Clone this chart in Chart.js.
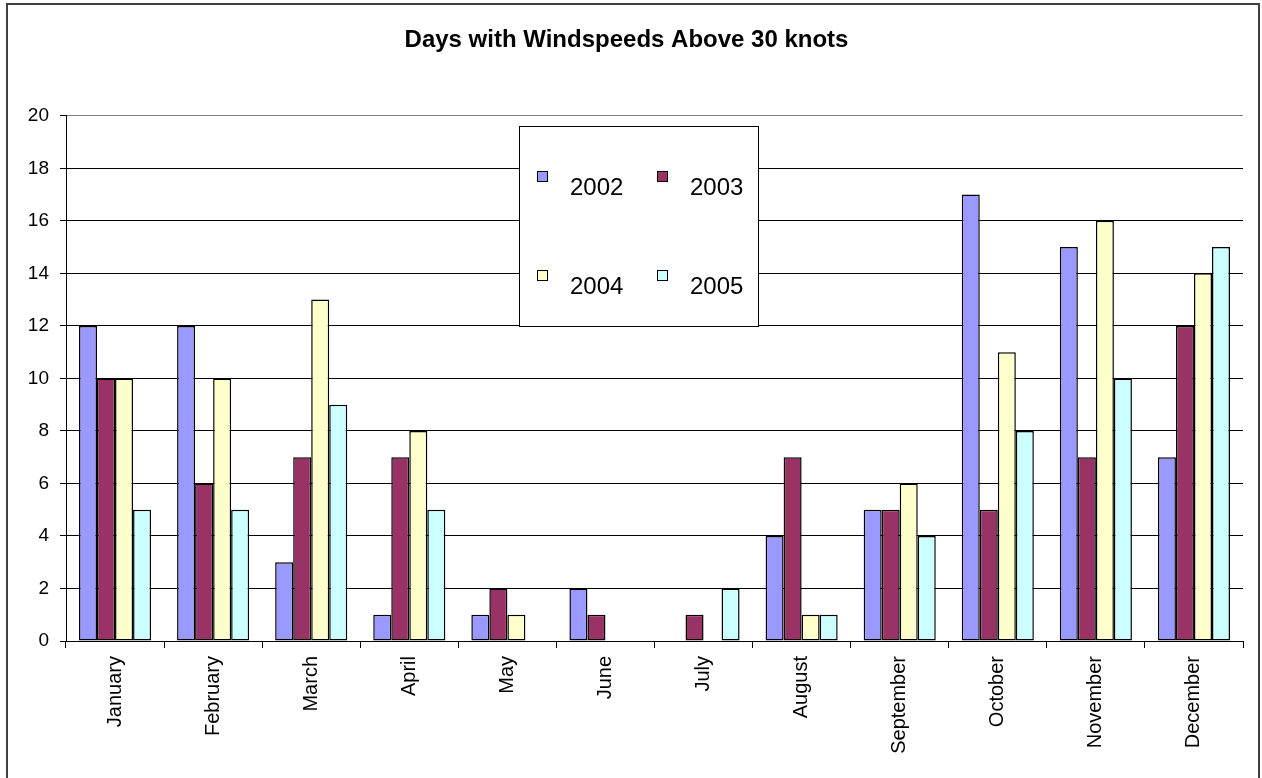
<!DOCTYPE html>
<html>
<head>
<meta charset="utf-8">
<script src="https://cdn.jsdelivr.net/npm/chart.js@4.4.0/dist/chart.umd.min.js"></script>
<style>
  html, body { margin: 0; padding: 0; background: #fff; }
  #wrap { width: 1262px; height: 778px; }
</style>
</head>
<body>
<div id="wrap"><canvas id="chart" width="1262" height="778"></canvas></div>
<script>
const months = ['January', 'February', 'March', 'April', 'May', 'June', 'July',
  'August', 'September', 'October', 'November', 'December'];
const years = ['2002', '2003', '2004', '2005'];

const days2002 = [12, 12, 3, 1, 1, 2, 0, 4, 5, 17, 15, 7];
const days2003 = [10, 6, 7, 7, 2, 1, 1, 7, 5, 5, 7, 12];
const days2004 = [10, 10, 13, 8, 1, 0, 0, 1, 6, 11, 16, 14];
const days2005 = [5, 5, 9, 5, 0, 0, 2, 1, 4, 8, 10, 15];

const yMin = 0, yMax = 20, yStep = 2;
const colors = ['#9999FF', '#993366', '#FFFFCC', '#CCFFFF'];
const font = 'Liberation Sans, Arial, sans-serif';

// excel style legend box sitting inside the plot
const boxLegend = {
  id: 'boxLegend',
  afterDraw(chart) {
    const ctx = chart.ctx;
    ctx.save();
    ctx.fillStyle = '#fff';
    ctx.fillRect(519, 126, 239, 200);
    ctx.strokeStyle = '#000';
    ctx.lineWidth = 1;
    ctx.strokeRect(519.5, 126.5, 239, 200);
    ctx.font = '24px ' + font;
    ctx.textBaseline = 'middle';
    chart.data.datasets.forEach((ds, i) => {
      const col = i % 2, row = Math.floor(i / 2);
      const sx = 537 + col * 120, sy = 171 + row * 99;
      ctx.fillStyle = ds.backgroundColor;
      ctx.fillRect(sx, sy, 11, 11);
      ctx.strokeRect(sx + 0.5, sy + 0.5, 10, 10);
      ctx.fillStyle = '#000';
      ctx.fillText(ds.label, sx + 33, sy + 17);
    });
    // outer frame
    ctx.strokeStyle = '#404040';
    ctx.lineWidth = 2;
    ctx.strokeRect(7, 4, 1252, 800);
    ctx.restore();
  }
};

const ctx = document.getElementById('chart');
new Chart(ctx, {
  type: 'bar',
  data: {
    labels: months,
    datasets: [days2002, days2003, days2004, days2005].map((d, i) => ({
      label: years[i],
      data: d,
      backgroundColor: colors[i],
      borderColor: '#000',
      borderWidth: 1.5,
      borderSkipped: false,
      categoryPercentage: 0.735,
      barPercentage: 1
    }))
  },
  options: {
    responsive: false,
    animation: false,
    layout: { padding: { left: 10, right: 19, top: 0, bottom: 0 } },
    plugins: {
      legend: { display: false },
      tooltip: { enabled: false },
      title: {
        display: true,
        text: 'Days with Windspeeds Above 30 knots',
        color: '#000',
        font: { family: font, size: 24, weight: 'bold' },
        padding: { top: 26, bottom: 61 }
      }
    },
    scales: {
      x: {
        grid: {
          drawOnChartArea: true,
          color: c => c.index === months.length ? '#808080' : 'rgba(0,0,0,0)',
          tickColor: '#000',
          tickLength: 7
        },
        border: { color: '#000' },
        ticks: {
          color: '#000',
          font: { family: font, size: 20 },
          minRotation: 90,
          maxRotation: 90,
          autoSkip: false,
          padding: 8
        },
        afterFit: s => { s.height = 137; }
      },
      y: {
        min: yMin,
        max: yMax,
        grid: {
          color: c => c.tick.value === yMax ? '#808080' : '#000',
          tickColor: '#000',
          tickLength: 6
        },
        border: { color: '#000' },
        ticks: {
          stepSize: yStep,
          color: '#000',
          font: { family: font, size: 19 },
          padding: 11
        },
        afterFit: s => { s.width = 56; }
      }
    }
  },
  plugins: [boxLegend]
});
</script>
</body>
</html>
